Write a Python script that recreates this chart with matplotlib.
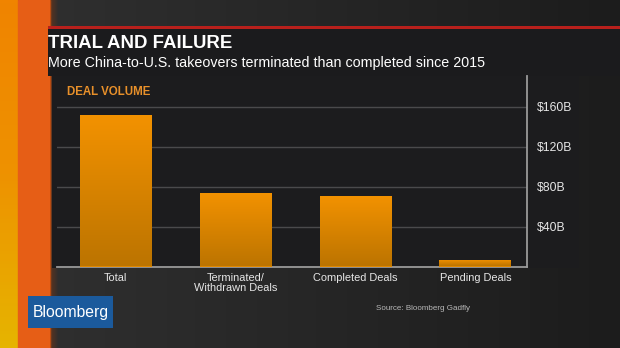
import numpy as np
import matplotlib.pyplot as plt
from matplotlib.patches import Rectangle
from matplotlib.colors import LinearSegmentedColormap

plt.rcParams['font.family'] = ['Liberation Sans', 'DejaVu Sans']

# deal volume, $ billions
categories = ['Total', 'Terminated/\nWithdrawn Deals', 'Completed Deals', 'Pending Deals']
volumes = [152, 74, 71, 7]
yticks = [40, 80, 120, 160]
ytick_labels = ['$40B', '$80B', '$120B', '$160B']

W, H = 620, 348
fig = plt.figure(figsize=(W / 100, H / 100), dpi=100)
fig.patch.set_facecolor('#232323')

# background layer in pixel coordinates
bg = fig.add_axes([0, 0, 1, 1], zorder=0)
bg.set_xlim(0, W)
bg.set_ylim(H, 0)
bg.axis('off')

# dark studio backdrop, lighter to the left
shade = np.linspace(0.19, 0.11, 200)[None, :] * np.ones((10, 1))
bg.imshow(np.dstack([shade] * 3), extent=[0, W, H, 0], aspect='auto', zorder=0)

# orange / yellow strip on the left
strip = LinearSegmentedColormap.from_list('strip', ['#f08400', '#ee9200', '#e6b400'])
bg.imshow(np.linspace(0, 1, 100)[:, None], cmap=strip, extent=[0, 18, H, 0],
          aspect='auto', zorder=1)
bg.add_patch(Rectangle((18, 0), 32, H, color='#e65e16', zorder=1))
for i in range(8):
    bg.add_patch(Rectangle((50 + i, 0), 1, H, color='#8a3a10',
                           alpha=0.5 * (1 - i / 8), zorder=1, lw=0))

# title band
bg.add_patch(Rectangle((48, 26), W - 48, 3, color='#b8201c', zorder=2, lw=0))
bg.add_patch(Rectangle((48, 29), W - 48, 47, color='#1b1b1d', zorder=2, lw=0))
# chart panel
bg.add_patch(Rectangle((52, 76), 527, 192, color='#1c1c1e', zorder=2, lw=0))

bg.text(48, 43, 'TRIAL AND FAILURE', color='white', fontsize=13.4,
        fontweight='bold', va='center', ha='left', zorder=3)
bg.text(48, 63, 'More China-to-U.S. takeovers terminated than completed since 2015',
        color='white', fontsize=10.25, va='center', ha='left', zorder=3)
bg.text(67, 92, 'DEAL VOLUME', color='#e8902a', fontsize=8.3,
        fontweight='bold', va='center', ha='left', zorder=3)

# logo and source
bg.add_patch(Rectangle((28, 296), 85, 32, color='#1b5a9c', zorder=2, lw=0))
bg.text(71, 312, 'Bloomberg', color='white', fontsize=11.3, va='center',
        ha='center', zorder=3)
bg.text(376, 309, 'Source: Bloomberg Gadfly', color='#b8b8b8', fontsize=5.8,
        va='center', ha='left', zorder=3)

# chart
ax = fig.add_axes([57 / W, (H - 266.5) / H, 470 / W, 190.5 / H], zorder=1)
ax.patch.set_visible(False)
x = np.arange(len(categories))
bars = ax.bar(x, volumes, width=0.6, color='#e08800', zorder=3)

grad = LinearSegmentedColormap.from_list('bar', ['#bc7400', '#f39200'])
for b in bars:
    im = ax.imshow(np.linspace(0, 1, 100)[:, None], cmap=grad, origin='lower',
                   extent=[b.get_x(), b.get_x() + b.get_width(), 0, b.get_height()],
                   aspect='auto', zorder=4)
    im.set_clip_path(b)

ax.set_xlim(-0.49, 3.43)
ax.set_ylim(0, 190.5)
ax.set_yticks(yticks)
ax.set_yticklabels(ytick_labels)
ax.yaxis.tick_right()
ax.set_xticks(x)
ax.set_xticklabels(categories, linespacing=0.9)
ax.tick_params(axis='y', length=0, pad=7, labelsize=8.8, labelcolor='#e6e6e6')
ax.tick_params(axis='x', length=0, pad=5, labelsize=7.9, labelcolor='#e6e6e6')
ax.grid(axis='y', color='#4a4a4c', lw=1)
ax.set_axisbelow(True)
for s in ['top', 'left']:
    ax.spines[s].set_visible(False)
ax.spines['right'].set_color('#9a9a9a')
ax.spines['bottom'].set_color('#9a9a9a')
ax.spines['bottom'].set_linewidth(1.3)
ax.spines['right'].set_linewidth(1.3)

fig.savefig('out.png', dpi=100)
